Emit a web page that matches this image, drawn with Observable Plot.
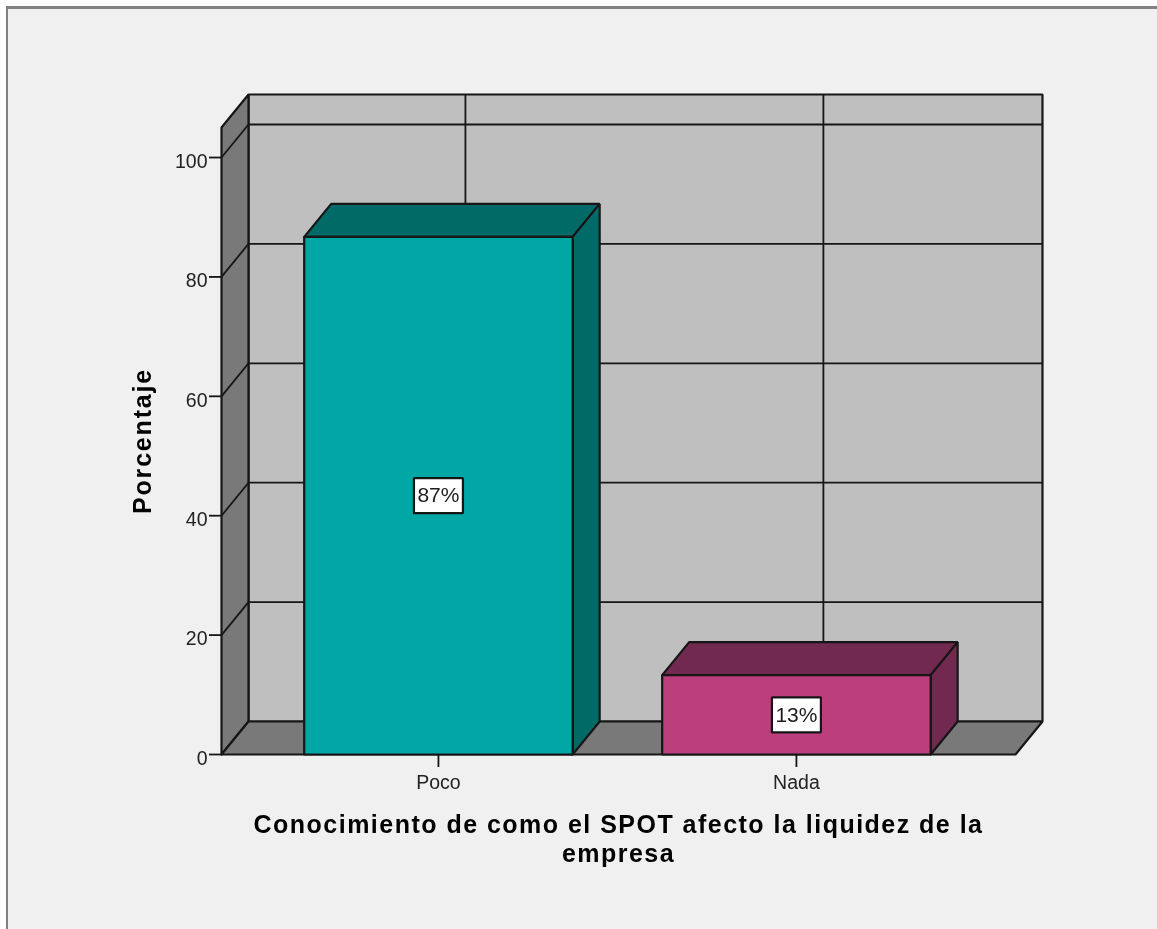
<!DOCTYPE html>
<html lang="es">
<head>
<meta charset="utf-8">
<script src="https://cdn.jsdelivr.net/npm/d3@7"></script>
<script src="https://cdn.jsdelivr.net/npm/@observablehq/plot@0.6"></script>
<style>
  html, body { margin: 0; padding: 0; background: #ffffff; width: 1157px; height: 929px; overflow: hidden; }
  #marco { position: absolute; left: 6px; top: 6px; width: 1160px; height: 940px; box-sizing: border-box;
           border: solid #808080; border-width: 3px 0 0 2.5px; background: #f0f0f0; }
  #grafico { position: absolute; left: 0; top: 0; }
  #grafico svg { display: block; background: transparent; filter: blur(0.4px); }
</style>
</head>
<body>
<div id="marco"></div>
<div id="grafico"></div>
<script>
const categorias = ["Poco", "Nada"];
const porcentajes = [86.7, 13.3];
const etiquetas = ["87%", "13%"];
const marcasY = [0, 20, 40, 60, 80, 100];
const tituloX = "Conocimiento de como el SPOT afecto la liquidez de la\nempresa";
const tituloY = "Porcentaje";

const coloresFrente = ["#00a7a4", "#bb3f7c"];
const coloresLado = ["#006a67", "#72294f"];
const colorPared = "#bfbfbf";
const colorSuelo = "#797979";
const trazo = "#161616";

// Extent of the axes, and the depth of the 3D box, in data units
const xMin = -0.606, xMax = 1.612, yMax = 105.03;
const fondoX = 0.0754, fondoY = 5.53;
const medioAncho = 0.375;
const cajaX = 0.0684, cajaY = 2.93;

const poly = (puntos, fill) => Plot.line(
  [...puntos, puntos[0]].map(([x, y]) => ({x, y})),
  {x: "x", y: "y", fill, stroke: trazo, strokeWidth: 2.2, strokeLinejoin: "miter"}
);

const marcas = [];
// back wall
marcas.push(poly([[xMin + fondoX, fondoY], [xMax + fondoX, fondoY], [xMax + fondoX, yMax + fondoY], [xMin + fondoX, yMax + fondoY]], colorPared));
// back wall grid
marcas.push(Plot.ruleY(marcasY.slice(1), {y: d => d + fondoY, x1: xMin + fondoX, x2: xMax + fondoX, stroke: trazo, strokeWidth: 1.8}));
marcas.push(Plot.ruleX(categorias.map((_, i) => i), {x: d => d + fondoX, y1: fondoY, y2: yMax + fondoY, stroke: trazo, strokeWidth: 1.8}));
// left wall
marcas.push(poly([[xMin, 0], [xMin + fondoX, fondoY], [xMin + fondoX, yMax + fondoY], [xMin, yMax]], colorSuelo));
marcas.push(Plot.link(marcasY.slice(1), {x1: xMin, y1: d => d, x2: xMin + fondoX, y2: d => d + fondoY, stroke: trazo, strokeWidth: 1.8}));
// floor
marcas.push(poly([[xMin, 0], [xMax, 0], [xMax + fondoX, fondoY], [xMin + fondoX, fondoY]], colorSuelo));

// bars
categorias.forEach((c, i) => {
  const a = i - medioAncho, b = i + medioAncho, v = porcentajes[i];
  marcas.push(poly([[a, v], [b, v], [b + fondoX, v + fondoY], [a + fondoX, v + fondoY]], coloresLado[i]));
  marcas.push(poly([[b, 0], [b + fondoX, fondoY], [b + fondoX, v + fondoY], [b, v]], coloresLado[i]));
  marcas.push(poly([[a, 0], [b, 0], [b, v], [a, v]], coloresFrente[i]));
  marcas.push(poly([[i - cajaX, v / 2 - cajaY], [i + cajaX, v / 2 - cajaY], [i + cajaX, v / 2 + cajaY], [i - cajaX, v / 2 + cajaY]], "#ffffff"));
});
marcas.push(Plot.text(etiquetas, {
  x: (_, i) => i, y: (_, i) => porcentajes[i] / 2, text: d => d,
  fontSize: 21, fontFamily: "Liberation Sans", fill: "#1c1c1c"
}));

// axes
marcas.push(Plot.axisY({
  ticks: marcasY, tickSize: 12, label: null, anchor: "left", fill: "none",
  stroke: trazo, strokeWidth: 1.8
}));
marcas.push(Plot.axisY({
  ticks: marcasY, tickSize: 0, tickPadding: 14, label: null, anchor: "left",
  fontSize: 19.5, fontFamily: "Liberation Sans", color: "#222222", dy: 4
}));
marcas.push(Plot.axisX({
  ticks: [0, 1], tickFormat: i => categorias[i], tickSize: 13, tickPadding: 8, label: null, anchor: "bottom",
  fontSize: 19.5, fontFamily: "Liberation Sans", color: "#222222", stroke: trazo, strokeWidth: 1.8
}));

// axis titles
marcas.push(Plot.text([tituloX], {
  frameAnchor: "bottom", dy: 107, text: d => d, lineHeight: 1.13,
  fontSize: 25, fontWeight: "bold", fontFamily: "Liberation Sans", fill: "#000000"
}));
marcas.push(Plot.text([tituloY], {
  frameAnchor: "left", dx: -79, rotate: -90, textAnchor: "middle", text: d => d,
  fontSize: 25, fontWeight: "bold", fontFamily: "Liberation Sans", fill: "#000000"
}));

const grafico = Plot.plot({
  width: 1157, height: 929,
  marginLeft: 221, marginRight: 142, marginTop: 127, marginBottom: 175,
  x: {type: "linear", domain: [xMin, xMax]},
  y: {type: "linear", domain: [0, yMax]},
  style: {background: "transparent", overflow: "visible"},
  marks: marcas
});
// Plot has no letter-spacing option: the two axis titles are tracked out here
const titulos = d3.select(grafico).selectAll("text");
titulos.filter(function () { return this.textContent.startsWith("Conocimiento"); }).style("letter-spacing", "1.48px");
titulos.filter(function () { return this.textContent === tituloY; }).style("letter-spacing", "1.8px");
document.getElementById("grafico").appendChild(grafico);
</script>
</body>
</html>
